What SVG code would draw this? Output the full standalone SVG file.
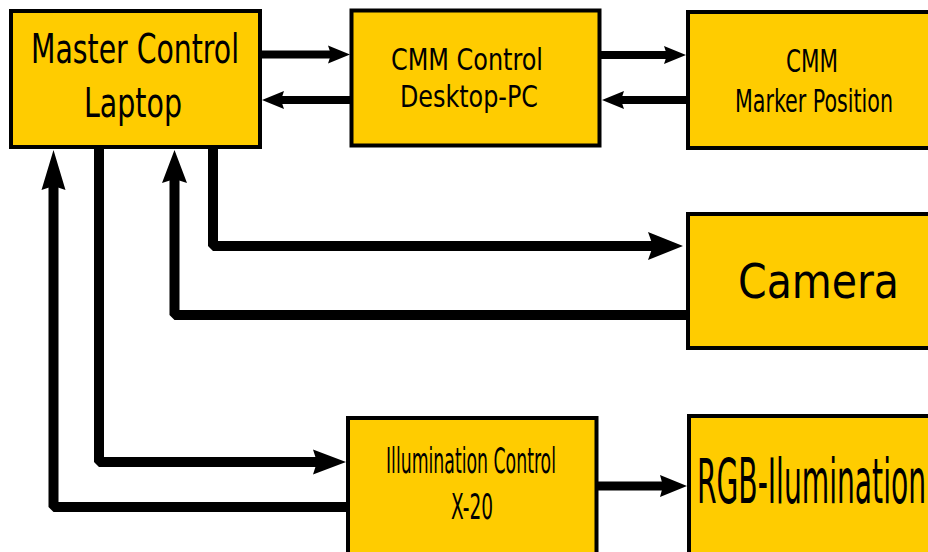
<svg xmlns="http://www.w3.org/2000/svg" width="928" height="552" viewBox="0 0 928 552">
<style>
.box{fill:#FFCC00;stroke:#000;stroke-width:4}
.t{font-family:"DejaVu Sans Condensed","DejaVu Sans",sans-serif;fill:#000}
.c{fill:none;stroke:#000;stroke-linejoin:bevel}
.w8{stroke-width:8}
.w9{stroke-width:9}
.w10{stroke-width:10}
</style>
<defs>
<marker id="arrS" markerUnits="userSpaceOnUse" markerWidth="22" markerHeight="18" refX="4" refY="9" orient="auto" overflow="visible"><path d="M0,0 L22,9 L0,18 L3,9 Z" fill="#000"/></marker>
<marker id="arrR" markerUnits="userSpaceOnUse" markerWidth="27" markerHeight="22" refX="4" refY="11" orient="auto" overflow="visible"><path d="M0,0 L27,11 L0,22 L3,11 Z" fill="#000"/></marker>
<marker id="arrM" markerUnits="userSpaceOnUse" markerWidth="33" markerHeight="25" refX="5" refY="12.5" orient="auto" overflow="visible"><path d="M0,0 L33,12.5 L0,25 L4,12.5 Z" fill="#000"/></marker>
<marker id="arrL" markerUnits="userSpaceOnUse" markerWidth="35" markerHeight="28" refX="6" refY="14" orient="auto" overflow="visible"><path d="M0,0 L35,14 L0,28 L5,14 Z" fill="#000"/></marker>
<marker id="arrT" markerUnits="userSpaceOnUse" markerWidth="40" markerHeight="24" refX="5" refY="12" orient="auto" overflow="visible"><path d="M0,0 L40,12 L0,24 L4,12 Z" fill="#000"/></marker>
</defs>
<rect width="928" height="552" fill="#fff"/>
<g id="connectors">
<path class="c w8" d="M260,54.5 H332" marker-end="url(#arrS)"/>
<path class="c w8" d="M350,100 H280" marker-end="url(#arrS)"/>
<path class="c w8" d="M600,55 H668" marker-end="url(#arrS)"/>
<path class="c w8" d="M688,100 H620" marker-end="url(#arrS)"/>
<path class="c w10" d="M213,147 V246 H654" marker-end="url(#arrL)"/>
<path class="c w10" d="M688,315 H174.5 V178" marker-end="url(#arrM)"/>
<path class="c w10" d="M99,146 V462 H318" marker-end="url(#arrM)"/>
<path class="c w10" d="M348,507 H53.5 V185" marker-end="url(#arrT)"/>
<path class="c w9" d="M597,486 H664" marker-end="url(#arrR)"/>
</g>
<g id="master">
<rect class="box" x="11" y="11" width="249" height="136"/>
<text class="t" x="31" y="63" font-size="41" textLength="208" lengthAdjust="spacingAndGlyphs">Master Control</text>
<text class="t" x="84" y="117" font-size="41" textLength="98" lengthAdjust="spacingAndGlyphs">Laptop</text>
</g>
<g id="cmm-control">
<rect class="box" x="351.5" y="10.5" width="248" height="135"/>
<text class="t" x="391" y="70" font-size="30" textLength="152" lengthAdjust="spacingAndGlyphs">CMM Control</text>
<text class="t" x="400" y="107" font-size="30" textLength="138" lengthAdjust="spacingAndGlyphs">Desktop-PC</text>
</g>
<g id="cmm-marker">
<rect class="box" x="688" y="12" width="262" height="136"/>
<text class="t" x="786" y="72" font-size="32" textLength="52" lengthAdjust="spacingAndGlyphs">CMM</text>
<text class="t" x="735" y="112" font-size="32" textLength="158" lengthAdjust="spacingAndGlyphs">Marker Position</text>
</g>
<g id="camera">
<rect class="box" x="688" y="214" width="262" height="134"/>
<text class="t" x="738" y="298" font-size="48" textLength="161" lengthAdjust="spacingAndGlyphs">Camera</text>
</g>
<g id="illumination-control">
<rect class="box" x="348" y="418" width="248.5" height="150"/>
<text class="t" x="386" y="473" font-size="36" textLength="170" lengthAdjust="spacingAndGlyphs">Illumination Control</text>
<text class="t" x="451" y="519" font-size="36" textLength="42" lengthAdjust="spacingAndGlyphs">X-20</text>
</g>
<g id="rgb-illumination">
<rect class="box" x="689" y="416" width="262" height="150"/>
<text class="t" x="697" y="503" font-size="62" textLength="229" lengthAdjust="spacingAndGlyphs">RGB-Ilumination</text>
</g>
</svg>
